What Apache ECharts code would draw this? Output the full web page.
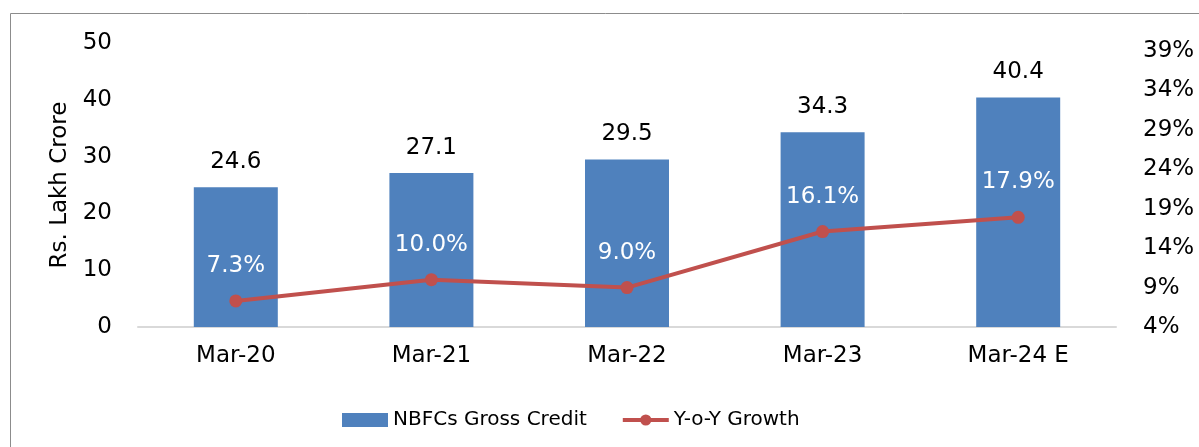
<!DOCTYPE html>
<html>
<head>
<meta charset="utf-8">
<script src="https://cdn.jsdelivr.net/npm/echarts@6/dist/echarts.min.js"></script>
<style>
  html, body { margin: 0; padding: 0; background: #fff; }
  #chart { width: 1199px; height: 447px; }
</style>
</head>
<body>
<div id="chart"></div>
<script>
const categories = ['Mar-20', 'Mar-21', 'Mar-22', 'Mar-23', 'Mar-24 E']
const grossCredit = [24.6, 27.1, 29.5, 34.3, 40.4]
const yoyGrowth = [7.3, 10.0, 9.0, 16.1, 17.9]

const font = 'DejaVu Sans'
const chart = echarts.init(document.getElementById('chart'))

chart.setOption({
  animation: false,
  textStyle: { fontFamily: font },
  graphic: [{
    type: 'rect',
    shape: { x: 10.5, y: 13.5, width: 1200, height: 440 },
    style: { fill: 'none', stroke: '#8c8c8c', lineWidth: 1 },
    silent: true,
  }],
  legend: {
    bottom: 12,
    left: 337,
    itemGap: 34,
    itemWidth: 46,
    itemHeight: 14,
    textStyle: { color: '#000', fontSize: 20, fontFamily: font },
    data: [
      { name: 'NBFCs Gross Credit', icon: 'rect' },
      { name: 'Y-o-Y Growth', lineStyle: { width: 4 } },
    ],
  },
  grid: { left: 138, right: 83, top: 43, bottom: 120 },
  xAxis: {
    type: 'category',
    data: categories,
    axisLine: { lineStyle: { color: '#d9d9d9', width: 2 } },
    axisTick: { show: false },
    axisLabel: { color: '#000', fontSize: 23, margin: 18 },
  },
  yAxis: [
    {
      type: 'value',
      min: 0,
      max: 50,
      interval: 10,
      name: 'Rs. Lakh Crore',
      nameLocation: 'middle',
      nameGap: 66,
      nameTextStyle: { color: '#000', fontSize: 23 },
      splitLine: { show: false },
      axisLine: { show: false },
      axisTick: { show: false },
      axisLabel: { color: '#000', fontSize: 23, margin: 26 },
    },
    {
      type: 'value',
      min: 4,
      max: 40,
      interval: 5,
      position: 'right',
      splitLine: { show: false },
      axisLine: { show: false },
      axisTick: { show: false },
      axisLabel: {
        color: '#000',
        fontSize: 23,
        margin: 27,
        showMaxLabel: false,
        formatter: (v) => (v > 39 ? '' : v + '%'),
      },
    },
  ],
  series: [
    {
      name: 'NBFCs Gross Credit',
      type: 'bar',
      data: grossCredit,
      barWidth: 84,
      itemStyle: { color: '#4f81bd' },
      label: {
        show: true,
        position: 'top',
        distance: 14,
        color: '#000',
        fontSize: 23,
        formatter: (p) => p.value.toFixed(1),
      },
      z: 2,
    },
    {
      name: 'Y-o-Y Growth',
      type: 'line',
      yAxisIndex: 1,
      data: yoyGrowth,
      symbol: 'circle',
      symbolSize: 13,
      lineStyle: { color: '#c0504d', width: 4 },
      itemStyle: { color: '#c0504d' },
      label: {
        show: true,
        position: 'top',
        distance: 17,
        color: '#fff',
        fontSize: 23,
        formatter: (p) => p.value.toFixed(1) + '%',
      },
      z: 3,
    },
  ],
})
</script>
</body>
</html>
